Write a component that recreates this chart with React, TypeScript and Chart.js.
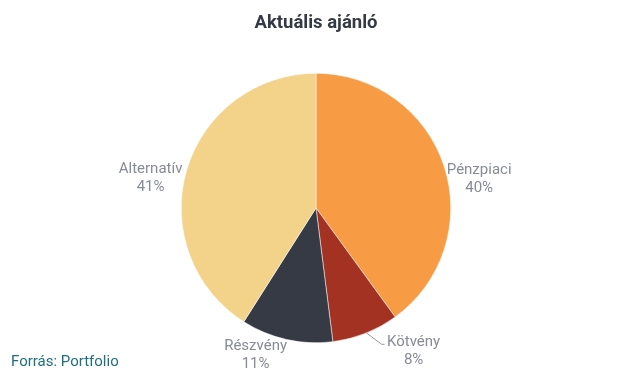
import React, { useEffect, useRef } from "react";
import { Chart, registerables } from "chart.js";

Chart.register(...registerables);

const categories = ["Pénzpiaci", "Kötvény", "Részvény", "Alternatív"];
const values = [40, 8, 11, 41];
const colors = ["#f79c45", "#a33222", "#363a45", "#f3d289"];
const titleText = "Aktuális ajánló";
const sourceText = "Forrás: Portfolio";

// label placement offsets relative to slice edge midpoint
const labelOffsets = [
  [35, 13],
  [48, 18],
  [-31, 16],
  [-36, 8],
];
const leaderFor = [false, true, false, false];

const labelPlugin = {
  id: "customLabels",
  afterDraw(chart: any) {
    const ctx = chart.ctx;
    const meta = chart.getDatasetMeta(0);
    ctx.save();
    // title
    ctx.fillStyle = "#333a45";
    ctx.font = "bold 18.5px Roboto";
    ctx.textAlign = "center";
    ctx.textBaseline = "middle";
    ctx.fillText(titleText, 316, 23);
    // source
    ctx.fillStyle = "#1f6f80";
    ctx.font = "15px Roboto";
    ctx.textAlign = "left";
    ctx.fillText(sourceText, 11, 362);

    meta.data.forEach((arc: any, i: number) => {
      const { x, y, startAngle, endAngle, outerRadius } = arc.getProps(
        ["x", "y", "startAngle", "endAngle", "outerRadius"],
        true
      );
      const mid = (startAngle + endAngle) / 2;
      const ex = x + Math.cos(mid) * outerRadius;
      const ey = y + Math.sin(mid) * outerRadius;
      const lx = ex + labelOffsets[i][0];
      const ly = ey + labelOffsets[i][1];
      if (leaderFor[i]) {
        ctx.strokeStyle = "#999999";
        ctx.lineWidth = 1;
        ctx.beginPath();
        ctx.moveTo(ex, ey - 1);
        ctx.lineTo(ex + 16, ey + 11);
        ctx.lineTo(ex + 19, ey + 11);
        ctx.stroke();
      }
      ctx.fillStyle = "#868b94";
      ctx.font = "15px Roboto";
      ctx.textAlign = "center";
      ctx.textBaseline = "middle";
      ctx.fillText(categories[i], lx, ly - 9);
      ctx.fillText(values[i] + "%", lx, ly + 9);
    });
    ctx.restore();
  },
};

export default function App() {
  const ref = useRef<HTMLCanvasElement>(null);
  useEffect(() => {
    document.body.style.margin = "0";
    const chart = new Chart(ref.current!, {
      type: "pie",
      data: {
        labels: categories,
        datasets: [
          {
            data: values,
            backgroundColor: colors,
            borderColor: "#ffffff",
            borderWidth: 0.5,
          },
        ],
      },
      options: {
        responsive: false,
        animation: false,
        layout: { padding: { top: 73, bottom: 35, left: 100, right: 99 } },
        plugins: {
          legend: { display: false },
          title: { display: false },
          tooltip: { enabled: false },
        },
      },
      plugins: [labelPlugin],
    });
    return () => chart.destroy();
  }, []);
  return <canvas ref={ref} width={631} height={378} style={{ display: "block" }} />;
}
